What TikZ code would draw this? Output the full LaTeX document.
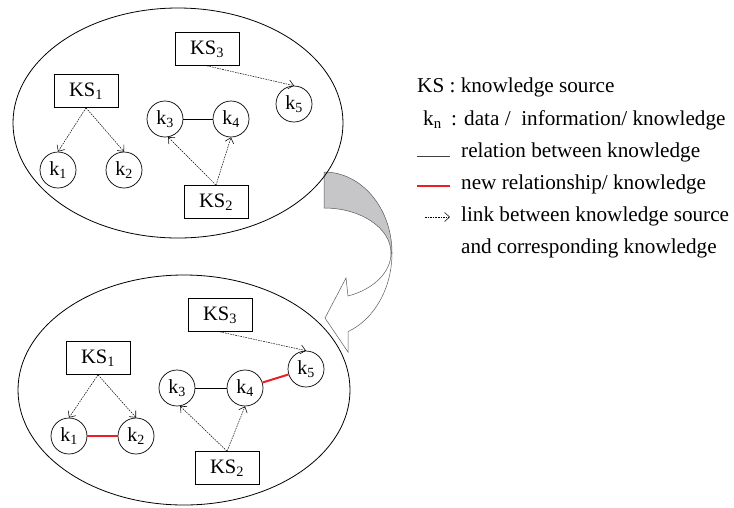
\documentclass[tikz,border=0pt]{standalone}
\usepackage{fontspec}
\setmainfont{Liberation Serif}
\usetikzlibrary{arrows.meta}
\definecolor{newred}{RGB}{235,30,36}
\definecolor{arrowgray}{RGB}{198,198,200}
\definecolor{arrowline}{RGB}{90,90,90}
\begin{document}
\begin{tikzpicture}[x=1pt,y=1pt,
  ksbox/.style={draw, line width=0.7pt, minimum width=64pt, minimum height=33pt, inner sep=0pt, font=\fontsize{20.5}{24}\selectfont},
  knode/.style={draw, circle, line width=0.7pt, minimum size=36pt, inner sep=0pt, font=\fontsize{20}{22}\selectfont},
  link/.style={line width=0.5pt, dash pattern=on 1.6pt off 1pt, -{Straight Barb[length=5pt,width=9pt,line width=0.55pt]}},
  rel/.style={line width=0.6pt},
  newrel/.style={line width=2pt, draw=newred},
  legend/.style={anchor=base west, inner sep=0pt, font=\fontsize{21.2}{24}\selectfont},
  cloud/.style={line width=0.8pt}
]
\useasboundingbox (0,0) rectangle (734,-507);

% curved arrow
\filldraw[fill=arrowgray, draw=arrowline, line width=0.5pt]
  (324,-172) arc[start angle=90, end angle=0, x radius=68pt, y radius=81pt]
  -- (391,-253) arc[start angle=0, end angle=90, x radius=67pt, y radius=45pt] -- cycle;
\filldraw[fill=white, draw=arrowline, line width=0.5pt]
  (392,-253) arc[start angle=0, end angle=-69.3, x radius=68pt, y radius=84pt]
  -- (348,-352) -- (325,-318) -- (346,-278) -- (348,-296)
  arc[start angle=-69, end angle=0, x radius=67pt, y radius=46pt] -- cycle;

% ellipses
\draw[cloud] (178,-123) ellipse[x radius=165pt, y radius=115pt];
\draw[cloud] (184,-390) ellipse[x radius=166pt, y radius=115pt];

% top diagram
\node[ksbox] (tKS3) at (207,-49) {KS\textsubscript{3}};
\node[ksbox] (tKS1) at (86,-91) {KS\textsubscript{1}};
\node[ksbox] (tKS2) at (216,-202) {KS\textsubscript{2}};
\node[knode] (tk1) at (58,-170) {k\textsubscript{1}};
\node[knode] (tk2) at (124,-170) {k\textsubscript{2}};
\node[knode] (tk3) at (165,-119) {k\textsubscript{3}};
\node[knode] (tk4) at (231,-119) {k\textsubscript{4}};
\node[knode] (tk5) at (294,-104) {k\textsubscript{5}};
\draw[link] (tKS1.south) -- (tk1.north);
\draw[link] (tKS1.south) -- (tk2.north);
\draw[link] (tKS2.north) -- (tk3.-80);
\draw[link] (tKS2.north) -- (tk4.south);
\draw[link] (tKS3.south) -- (tk5.north);
\draw[rel] (tk3) -- (tk4);

% bottom diagram
\node[ksbox] (bKS3) at (220,-315) {KS\textsubscript{3}};
\node[ksbox] (bKS1) at (98,-358) {KS\textsubscript{1}};
\node[ksbox] (bKS2) at (227,-468) {KS\textsubscript{2}};
\node[knode] (bk1) at (69,-436) {k\textsubscript{1}};
\node[knode] (bk2) at (136,-436) {k\textsubscript{2}};
\node[knode] (bk3) at (177,-388) {k\textsubscript{3}};
\node[knode] (bk4) at (245,-388) {k\textsubscript{4}};
\node[knode] (bk5) at (306,-369) {k\textsubscript{5}};
\draw[link] (bKS1.south) -- (bk1.north);
\draw[link] (bKS1.south) -- (bk2.north);
\draw[link] (bKS2.north) -- (bk3.-80);
\draw[link] (bKS2.north) -- (bk4.south);
\draw[link] (bKS3.south) -- (bk5.north);
\draw[rel] (bk3) -- (bk4);
\draw[newrel] (bk1) -- (bk2);
\draw[newrel] (bk4) -- (bk5);

% legend
\node[legend] (l1) at (417,-92) {KS : knowledge source};
\node[legend] (l2a) at (423,-125) {k\textsubscript{n}};
\node[legend] (l2b) at (451,-125) {: data /\ \ information/ knowledge};
\coordinate (r1a) at (417,-156);
\coordinate (r1b) at (450,-156);
\draw[rel, draw=black!75] (r1a) -- (r1b);
\node[legend] (l3) at (461,-157.5) {relation between knowledge};
\coordinate (r2a) at (417,-186);
\coordinate (r2b) at (450,-186);
\draw[newrel] (r2a) -- (r2b);
\node[legend] (l4) at (461,-189.5) {new relationship/ knowledge};
\coordinate (r3a) at (425,-217);
\coordinate (r3b) at (450,-217);
\draw[link] (r3a) -- (r3b);
\node[legend] (l5) at (461,-221.5) {link between knowledge source};
\node[legend] (l6) at (461,-253.5) {and corresponding knowledge};
\end{tikzpicture}
\end{document}
